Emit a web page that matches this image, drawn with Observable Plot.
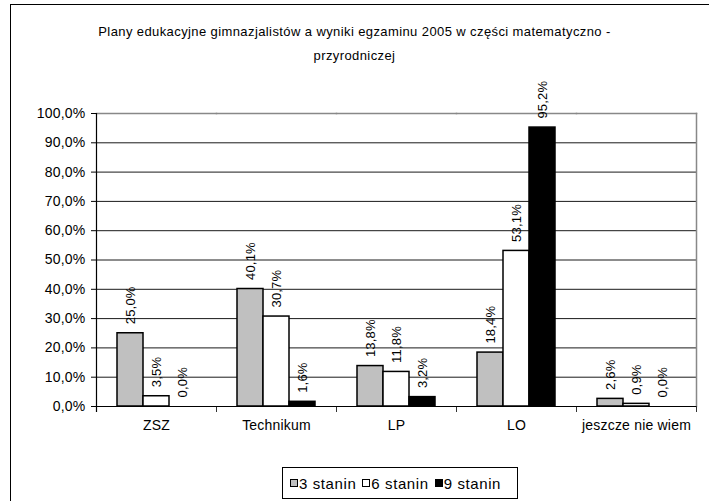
<!DOCTYPE html>
<html>
<head>
<meta charset="utf-8">
<script src="https://cdn.jsdelivr.net/npm/d3@7"></script>
<script src="https://cdn.jsdelivr.net/npm/@observablehq/plot@0.6"></script>
<style>
  html, body { margin: 0; padding: 0; background: #fff; }
  #wrap { position: relative; width: 709px; height: 501px; overflow: hidden; background: #fff;
          font-family: "Liberation Sans", Arial, sans-serif; color: #000; }
  #outer { position: absolute; left: 10px; top: 4px; width: 740px; height: 540px; border: 1.5px solid #000; box-sizing: border-box; }
  #title { position: absolute; left: 0; top: 20px; width: 709px; text-align: center; font-size: 13px;
           line-height: 24px; letter-spacing: 0.4px; }
  #chart { position: absolute; left: 0; top: 0; }
  #legend { position: absolute; left: 282px; top: 467px; width: 236px; height: 32px; box-sizing: border-box;
            border: 1.2px solid #000; display: flex; align-items: center; padding-left: 7px; font-size: 15px;
            letter-spacing: 0.6px; }
  #legend .item { display: flex; align-items: center; margin-right: 6px; }
  #legend .sw { width: 8px; height: 8px; border: 1.2px solid #000; margin-right: 1px; box-sizing: border-box; }
  #chart svg text { letter-spacing: 0.2px; }
</style>
</head>
<body>
<div id="wrap">
  <div id="outer"></div>
  <div id="chart"></div>
  <div id="title">Plany edukacyjne gimnazjalistów a wyniki egzaminu 2005 w części matematyczno -<br>przyrodniczej</div>
  <div id="legend"></div>
</div>
<script>
const groups = ["ZSZ", "Technikum", "LP", "LO", "jeszcze nie wiem"];
const series = ["3 stanin", "6 stanin", "9 stanin"];
const stanin3 = [25.0, 40.1, 13.8, 18.4, 2.6];
const stanin6 = [3.5, 30.7, 11.8, 53.1, 0.9];
const stanin9 = [0.0, 1.6, 3.2, 95.2, 0.0];
const seriesColors = ["#c0c0c0", "#ffffff", "#000000"];
const yTicks = [0, 10, 20, 30, 40, 50, 60, 70, 80, 90, 100];

const valuesBySeries = [stanin3, stanin6, stanin9];
const data = [];
groups.forEach((g, i) => {
  series.forEach((s, j) => {
    data.push({group: g, series: s, value: valuesBySeries[j][i]});
  });
});

const fmt = v => v.toFixed(1).replace(".", ",") + "%";

const chart = Plot.plot({
  width: 709,
  height: 450,
  marginLeft: 94,
  marginRight: 11,
  marginTop: 113,
  marginBottom: 44,
  style: {fontFamily: "'Liberation Sans', Arial, sans-serif", fontSize: "13px", background: "transparent", color: "#000"},
  fx: {domain: groups, padding: 0, label: null},
  x: {domain: series, paddingInner: 0, paddingOuter: 0.737, axis: null},
  y: {domain: [0, 100], label: null},
  color: {domain: series, range: seriesColors},
  marks: [
    Plot.ruleY(yTicks.filter(d => d > 0 && d < 100), {stroke: "#1a1a1a", strokeWidth: 1}),
    Plot.frame({anchor: "top", stroke: "#888", strokeWidth: 1.5}),
    Plot.frame({anchor: "right", facetAnchor: "right", stroke: "#888", strokeWidth: 1.5}),
    Plot.frame({anchor: "left", insetTop: 293, insetBottom: -5, stroke: "#333"}),
    Plot.frame({anchor: "right", facetAnchor: "right", insetTop: 293, insetBottom: -5, stroke: "#333"}),
    Plot.barY(data, {fx: "group", x: "series", y: "value", fill: "series", stroke: "#000", strokeWidth: 1.5}),
    Plot.ruleY([0], {stroke: "#000", strokeWidth: 1}),
    Plot.frame({anchor: "left", facetAnchor: "left", insetBottom: -5, stroke: "#000", strokeWidth: 1.2}),
    Plot.text(data, {fx: "group", x: "series", y: "value", text: d => fmt(d.value), rotate: -90,
      textAnchor: "start", lineAnchor: "middle", dy: -9, fontSize: 13, fill: "#000"}),
    Plot.axisY({ticks: yTicks, tickFormat: fmt, tickSize: 5, tickPadding: 6, fontSize: 14, label: null}),
    Plot.axisFx({anchor: "bottom", tickSize: 0, tickPadding: 14, fontSize: 14, label: null})
  ]
});
document.getElementById("chart").appendChild(chart);

const legend = document.getElementById("legend");
series.forEach((s, j) => {
  const item = document.createElement("div");
  item.className = "item";
  const sw = document.createElement("div");
  sw.className = "sw";
  sw.style.background = seriesColors[j];
  const t = document.createElement("span");
  t.textContent = s;
  item.appendChild(sw);
  item.appendChild(t);
  legend.appendChild(item);
});
</script>
</body>
</html>
